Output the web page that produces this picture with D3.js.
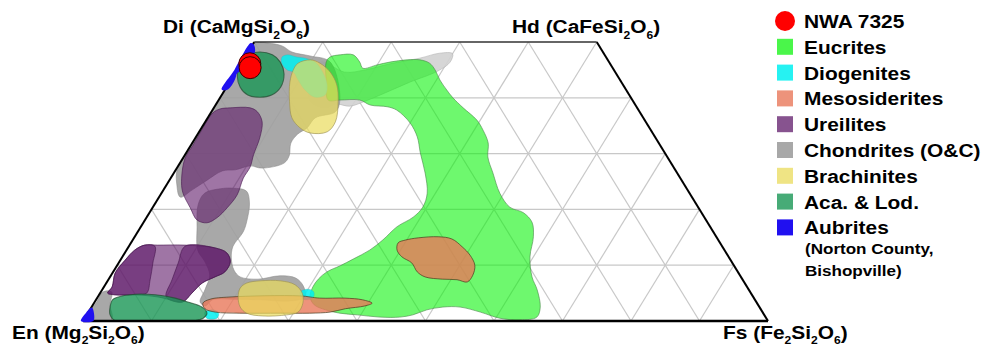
<!DOCTYPE html>
<html>
<head>
<meta charset="utf-8">
<script src="https://cdn.jsdelivr.net/npm/d3@7"></script>
<style>
  html, body { margin: 0; padding: 0; background: #fff; }
  svg { display: block; font-family: Arial, "Liberation Sans", sans-serif; font-weight: bold; }
</style>
</head>
<body>
<svg id="chart" width="987" height="347"></svg>
<script>
// Pyroxene quadrilateral (Di–Hd–En–Fs). Every vertex is [Fs mol%, Wo mol%].

const corners = [[0, 0], [100, 0], [50, 50], [0, 50]]; // En, Fs, Hd, Di

const gridWo = [10, 20, 30, 40];
const gridFs = [10, 20, 30, 40, 50, 60, 70, 80, 90];
const gridEn = [10, 20, 30, 40, 50, 60, 70, 80, 90];

// Ordinary + carbonaceous chondrite fields
const chondritesC = [
  [[11.4,46.4],[15.9,44.6],[18.7,45.0],[21.8,46.1],[25.6,47.1],[28.1,48.0],[30.0,47.9],[30.4,46.4],[29.4,44.8],[26.3,42.8],[23.7,40.9],[21.5,39.4],[19.7,38.5],[17.4,38.9],[16.3,38.2],[13.3,39.6]]
];
const chondritesO = [
  [[0.1,49.8],[2.1,49.8],[4.4,49.3],[6.4,48.2],[9.4,47.5],[12.9,46.4],[17.7,39.6],[18.1,37.5],[15.7,36.4],[15.4,34.6],[14.6,33.5],[14.4,31.9],[15.3,29.6],[15.2,28.3],[12.4,27.4],[10.5,27.8],[8.7,27.1],[6.9,26.9],[5.4,25.1],[4.2,23.5],[3.1,22.2],[1.5,24.4],[0.1,27.4],[0.1,35.0],[0.0,44.0]],
  [[10.0,23.8],[12.2,23.3],[13.7,21.2],[14.9,18.1],[15.4,16.0],[15.2,13.4],[16.0,11.3],[17.5,9.1],[19.0,7.9],[21.8,7.5],[24.7,8.1],[27.2,7.7],[29.0,6.3],[30.3,4.3],[28.4,3.6],[24.0,3.8],[20.2,3.9],[17.0,3.8],[16.5,2.7],[15.4,3.4],[15.0,5.6],[14.4,8.2],[12.5,10.6],[10.4,12.7],[8.3,16.7],[6.4,20.8],[6.3,22.9],[8.2,23.7]],
  [[0.1,0.2],[4.1,0.2],[2.5,2.9],[1.6,5.2],[0.3,5.2],[0.3,3.4]]
];
const eucrites = [
  [[12.3,46.4],[12.4,47.3],[13.7,47.7],[15.6,47.7],[17.2,46.4],[18.2,45.3],[20.0,45.9],[21.6,46.4],[23.9,46.8],[25.8,46.8],[27.5,46.2],[28.9,45.0],[30.5,43.2],[32.4,41.4],[34.0,40.0],[36.4,38.2],[39.5,36.0],[41.3,34.2],[43.2,31.9],[44.4,29.4],[46.6,26.5],[49.4,22.9],[52.1,20.4],[54.6,19.4],[56.7,17.7],[58.2,15.1],[59.5,11.5],[61.6,7.9],[63.5,5.6],[65.5,2.5],[65.9,0.7],[63.7,0.2],[60.6,0.5],[57.2,1.6],[53.8,2.5],[51.3,2.5],[49.2,2.0],[47.6,1.1],[45.9,0.7],[43.0,0.7],[39.5,1.1],[36.8,1.4],[34.4,2.0],[32.3,2.9],[31.0,4.3],[30.5,6.1],[30.6,7.5],[31.2,8.8],[32.6,9.9],[33.9,11.1],[35.5,12.7],[36.5,14.5],[37.4,16.9],[38.9,18.6],[39.4,20.4],[38.8,22.9],[36.7,26.5],[34.2,30.1],[32.3,33.0],[30.0,35.5],[26.9,37.8],[25.2,38.4],[22.6,38.7],[20.6,39.6],[17.7,39.6],[16.0,39.6],[13.9,43.2]]
];
const diogenites = [
  [[5.4,47.3],[6.0,47.7],[7.6,47.3],[8.9,47.1],[10.7,46.4],[12.7,44.6],[14.5,42.3],[15.1,40.5],[13.8,40.1],[11.7,41.4],[9.8,43.2],[8.4,44.6],[7.3,45.0],[5.9,46.2]],
  [[29.1,5.2],[30.0,5.7],[31.1,5.2],[31.5,4.1],[30.2,3.9]],
  [[17.0,1.6],[18.0,2.0],[19.1,1.4],[19.3,0.5],[17.8,0.5]]
];
const mesosiderites = [
  [[15.9,3.2],[16.6,3.9],[19.3,4.3],[29.4,4.5],[32.5,4.1],[36.2,4.1],[38.9,3.8],[40.6,3.2],[39.8,2.7],[37.2,2.2],[35.3,1.6],[32.4,1.4],[28.1,1.4],[22.2,1.4],[18.5,1.6],[16.7,2.2]],
  [[39.0,14.0],[39.8,14.5],[41.5,14.9],[44.3,15.1],[46.5,14.7],[48.7,13.3],[50.6,11.8],[52.2,10.0],[52.8,8.2],[52.6,7.0],[50.9,7.4],[48.7,7.5],[46.0,7.9],[44.4,8.8],[42.8,10.4],[40.8,11.5],[39.5,12.7]]
];
const ureilites = [
  [[1.0,38.0],[2.4,38.2],[5.3,38.2],[6.7,37.5],[8.3,35.7],[9.4,32.8],[10.0,29.8],[10.6,27.6],[10.6,25.6],[11.2,22.6],[10.9,20.3],[10.3,18.5],[9.3,17.6],[7.6,18.1],[5.5,20.3],[3.0,23.1],[1.6,25.6],[0.3,29.2],[0.3,31.5],[0.2,34.6],[0.3,37.3]],
  [[1.2,6.1],[0.4,8.6],[0.7,10.9],[1.2,12.7],[2.2,13.6],[4.1,13.6],[8.1,13.6],[12.7,13.1],[14.9,12.2],[16.2,10.6],[16.3,8.8],[15.3,7.9],[14.0,6.8],[13.4,5.0],[12.8,3.4],[10.8,3.8],[8.8,4.3],[5.3,4.7],[2.3,4.7],[1.1,5.0]],
  [[1.2,6.1],[0.4,8.6],[0.7,10.9],[1.2,12.7],[2.2,13.6],[3.8,13.4],[5.0,10.4],[6.1,7.4],[6.8,5.0],[5.3,4.7],[2.3,4.7],[1.1,5.0]],
  [[8.2,13.4],[12.7,13.1],[14.9,12.2],[16.2,10.6],[16.3,8.8],[15.3,7.9],[14.0,6.8],[13.4,5.0],[12.8,3.4],[10.0,4.3],[9.3,7.4],[8.7,10.4]]
];
const brachinites = [
  [[8.3,46.2],[9.8,46.8],[11.5,46.2],[13.8,44.6],[15.9,42.3],[17.6,39.3],[19.0,35.7],[18.7,33.9],[16.3,33.7],[14.4,34.6],[12.3,36.4],[10.5,39.3],[8.8,42.8],[8.2,45.0]],
  [[20.0,5.9],[20.5,6.8],[22.3,7.2],[25.2,7.2],[27.7,6.5],[29.5,5.0],[30.5,3.2],[30.6,1.6],[29.2,1.1],[25.8,0.9],[23.2,1.4],[21.7,2.5],[20.5,4.3]]
];
const acapulcoitesLodranites = [
  [[1.7,48.2],[3.8,47.7],[5.6,46.4],[7.2,44.3],[7.9,41.9],[7.3,40.5],[5.8,40.1],[3.8,40.5],[2.0,41.9],[0.4,44.3],[0.1,46.4],[0.3,47.7]],
  [[2.7,2.5],[2.4,3.8],[3.0,4.3],[5.2,4.8],[8.2,4.7],[11.4,4.1],[13.6,3.4],[16.1,2.5],[17.4,1.4],[17.3,0.5],[15.9,0.0],[4.7,0.0],[3.4,1.1]]
];
const aubrites = [
  [[-0.4,49.8],[0.2,49.5],[1.0,48.2],[0.9,47.1],[1.0,45.9],[0.7,44.9],[0.3,44.4],[0.5,43.5],[0.6,42.3],[0.3,41.4],[-0.5,41.5],[-0.4,45.0]],
  [[-0.3,0.0],[1.5,0.0],[0.9,1.4],[0.1,2.4],[-0.3,1.5]]
];

// NWA 7325 pyroxene analyses
const nwaFs = [1.3, 1.7];
const nwaWo = [46.1, 45.4];

const legendLabels = ["NWA 7325", "Eucrites", "Diogenites", "Mesosiderites", "Ureilites",
                      "Chondrites (O&C)", "Brachinites", "Aca. & Lod.", "Aubrites"];
const legendNote = ["(Norton County,", "Bishopville)"];

const cornerLabels = [
  { parts: [["Di (CaMgSi", 0], ["2", 1], ["O", 0], ["6", 1], [")", 0]], x: 163, y: 33 },
  { parts: [["Hd (CaFeSi", 0], ["2", 1], ["O", 0], ["6", 1], [")", 0]], x: 512, y: 33 },
  { parts: [["En (Mg", 0], ["2", 1], ["Si", 0], ["2", 1], ["O", 0], ["6", 1], [")", 0]], x: 12, y: 339 },
  { parts: [["Fs (Fe", 0], ["2", 1], ["Si", 0], ["2", 1], ["O", 0], ["6", 1], [")", 0]], x: 723, y: 339 }
];

// ---- scales: horizontal position = Fs + Wo/2, vertical = Wo ----
const x = d3.scaleLinear().domain([0, 100]).range([83, 768]);
const y = d3.scaleLinear().domain([0, 50]).range([321, 42]);
const px = d => x(d[0] + d[1] / 2);
const py = d => y(d[1]);

const svg = d3.select("#chart");

const smooth = d3.line().x(px).y(py).curve(d3.curveCatmullRomClosed.alpha(0.5));
const straight = d3.line().x(px).y(py);

svg.append("clipPath").attr("id", "quad")
  .append("path").attr("d", straight(corners) + "Z");

// grid
const gridLines = [];
gridWo.forEach(w => gridLines.push([[0, w], [100 - w, w]]));
gridFs.forEach(f => gridLines.push([[f, 0], [f, Math.min(50, 100 - f)]]));
gridEn.forEach(e => {
  const s = 100 - e;
  gridLines.push([[s, 0], s >= 50 ? [s - 50, 50] : [0, s]]);
});
svg.append("g")
  .selectAll("path").data(gridLines).join("path")
  .attr("d", straight)
  .attr("fill", "none")
  .attr("stroke", "#c8c8c8")
  .attr("stroke-width", 1.2);

const styles = {
  chondC:  { fill: "#d2d2d2", op: 0.9,  stroke: "#b0b0b0", sw: 0.8 },
  chondO:  { fill: "#9e9e9e", op: 0.9,  stroke: "#8a8a8a", sw: 0.8 },
  euc:     { fill: "#0df30d", op: 0.6,  stroke: "#4c8c4c", sw: 0.9 },
  dio:     { fill: "#00f0f0", op: 0.85, stroke: "#40b0b0", sw: 0.5 },
  meso:    { fill: "#e8785a", op: 0.8,  stroke: "#4a3a20", sw: 1.0 },
  ure:     { fill: "#5f1969", op: 0.6,  stroke: "#4a1a52", sw: 0.9 },
  brach:   { fill: "#e9db5b", op: 0.7,  stroke: "#9a9050", sw: 0.9 },
  aca:     { fill: "#199655", op: 0.8,  stroke: "#234a30", sw: 1.1 },
  aub:     { fill: "#2010f0", op: 1,    stroke: "none",    sw: 0 }
};

const fields = svg.append("g").attr("clip-path", "url(#quad)");
function drawFields(parent, polys, s) {
  parent.append("g").selectAll("path").data(polys).join("path")
    .attr("d", smooth)
    .attr("fill", s.fill)
    .attr("fill-opacity", s.op)
    .attr("stroke", s.stroke)
    .attr("stroke-width", s.sw)
    .attr("stroke-opacity", 0.7);
}
drawFields(fields, chondritesC, styles.chondC);
drawFields(fields, chondritesO, styles.chondO);
drawFields(fields, eucrites, styles.euc);
drawFields(fields, diogenites, styles.dio);
drawFields(fields, mesosiderites, styles.meso);
drawFields(fields, ureilites, styles.ure);
drawFields(fields, brachinites, styles.brach);
drawFields(fields, acapulcoitesLodranites, styles.aca);

// quadrilateral outline
const [En, Fs, Hd, Di] = corners;
const edges = [
  { seg: [En, Fs], w: 2.6, c: "#000" },
  { seg: [En, Di], w: 2.0, c: "#000" },
  { seg: [Fs, Hd], w: 2.0, c: "#000" },
  { seg: [Di, Hd], w: 1.6, c: "#333" }
];
svg.append("g").selectAll("path").data(edges).join("path")
  .attr("d", d => straight(d.seg))
  .attr("stroke", d => d.c)
  .attr("stroke-width", d => d.w)
  .attr("fill", "none");

drawFields(svg, aubrites, styles.aub);

// NWA 7325 analyses
svg.append("g").selectAll("circle").data(nwaFs.map((f, i) => [f, nwaWo[i]])).join("circle")
  .attr("cx", px).attr("cy", py).attr("r", 11)
  .attr("fill", "#ff0000")
  .attr("stroke", "#3a0000")
  .attr("stroke-width", 1);

// text helper: slightly widened bold type with optional subscripts
function richText(parts, x0, y0, size, sx, subDrop = 6) {
  const t = svg.append("text")
    .attr("transform", `translate(${x0},${y0}) scale(${sx},1)`)
    .style("font-size", size + "px")
    .attr("fill", "#000");
  let down = false;
  parts.forEach(([s, sub]) => {
    const ts = t.append("tspan").text(s);
    if (sub && !down) { ts.attr("dy", subDrop).style("font-size", Math.round(size * 0.58) + "px"); down = true; }
    else if (sub) { ts.style("font-size", Math.round(size * 0.58) + "px"); }
    else if (!sub && down) { ts.attr("dy", -subDrop); down = false; }
  });
  return t;
}

cornerLabels.forEach((l, i) => richText(l.parts, l.x, l.y, 19, 1.1, i < 2 ? 6 : 4.5));

// legend
const legendStyles = [null, styles.euc, styles.dio, styles.meso, styles.ure,
                      styles.chondO, styles.brach, styles.aca, styles.aub];
const rowY = i => 21 + i * 25.8;
const legend = svg.append("g");
legendLabels.forEach((lab, i) => {
  const cy = rowY(i);
  if (i === 0) {
    legend.append("circle").attr("cx", 785).attr("cy", cy).attr("r", 10).attr("fill", "#ff0000");
  } else {
    const s = legendStyles[i];
    legend.append("rect").attr("x", 777).attr("y", cy - 8).attr("width", 16).attr("height", 16)
      .attr("fill", s.fill).attr("fill-opacity", Math.max(s.op, 0.75));
  }
  richText([[lab, 0]], 804, cy + 7, 19, 1.1);
});
legendNote.forEach((line, j) => richText([[line, 0]], 805, 254 + j * 22, 15.5, 1.1));
</script>
</body>
</html>
